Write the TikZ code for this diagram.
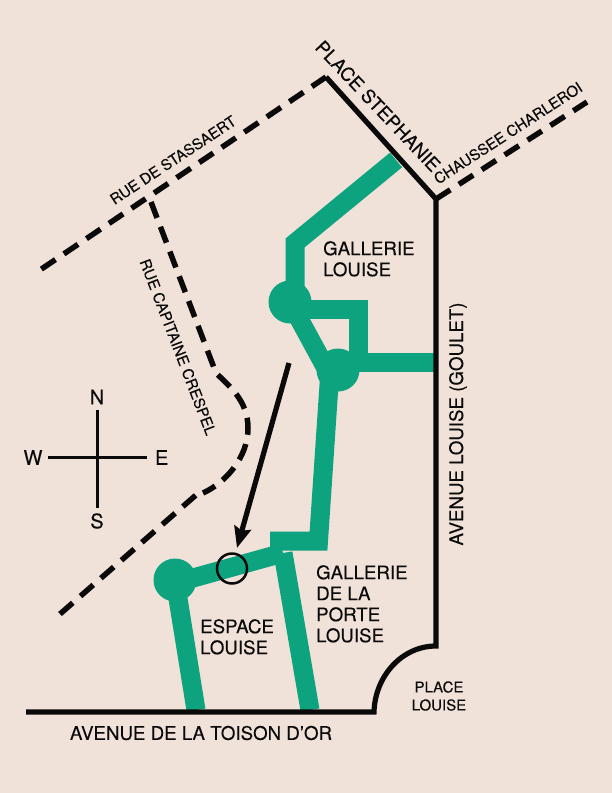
\documentclass[tikz,border=0pt]{standalone}
\usepackage{fontspec}
\setmainfont[FakeBold=0.15]{TeX Gyre Heros}
\usetikzlibrary{arrows.meta}
\definecolor{paper}{HTML}{F0E2D8}
\definecolor{gal}{HTML}{0DA37F}
\definecolor{ink}{HTML}{0A0A0A}
\tikzset{
  x=1pt,y=-1pt,
  route/.style={draw=gal,line width=19pt,line join=miter},
  hub/.style={circle,fill=gal,minimum size=43pt,inner sep=0pt},
  road/.style={draw=ink,line width=5.2pt,line join=miter},
  dashroad/.style={draw=ink,line width=5.5pt,dash pattern=on 17pt off 10.2pt},
  lab/.style={text=ink,font=\fontsize{18.7}{21}\selectfont,align=left,inner sep=0pt},
  point/.style={text=ink,font=\fontsize{20}{22}\selectfont,inner sep=0pt},
  small/.style={text=ink,font=\fontsize{15}{18}\selectfont,inner sep=0pt},
  compass/.style={draw=ink,line width=2.7pt},
}
\begin{document}
\begin{tikzpicture}
\useasboundingbox[fill=paper] (0,0) rectangle (612,793);
% junctions
\node[hub] (h1) at (290,302) {};
\node[hub] (h2) at (338,370) {};
\node[hub] (h3) at (175,580) {};
\coordinate (topend) at (396,160);
\coordinate (bend) at (295,243);
\coordinate (h1top) at (295,302);
\coordinate (h1side) at (290,309);
\coordinate (loopa) at (358,309);
\coordinate (loopb) at (358,362);
\coordinate (h2side) at (338,362);
\coordinate (h2diag) at (328,372);
\coordinate (h2down) at (330,370);
\coordinate (east) at (434,362);
\coordinate (stepa) at (318.5,541);
\coordinate (stepb) at (270,541);
\coordinate (joint) at (283,553);
\coordinate (h3side) at (175,583);
\coordinate (foota) at (196,710);
\coordinate (footb) at (310,710);
% green
\draw[route] (topend) -- (bend) -- (h1top);
\draw[route] (h1.center) -- (h2diag);
\draw[route] (h1side) -- (loopa) -- (loopb);
\draw[route] (h2side) -- (east);
\draw[route] (h2down) -- (stepa) -- (stepb);
\draw[route] (h3side) -- (joint);
\draw[route] (h3.center) -- (foota);
\draw[route] (joint) -- (footb);
% roads
\coordinate (pa) at (326,77);
\coordinate (pb) at (436,199);
\coordinate (pc) at (436,646);
\coordinate (pd) at (374,712);
\coordinate (pe) at (26,712);
\coordinate (stassaertend) at (40,270);
\coordinate (charleroiend) at (587,102);
\draw[road] (pa) -- (pb) -- (pc) .. controls (402,646) and (375,676) .. (pd) -- (pe);
\draw[dashroad] (pa) -- (stassaertend);
\draw[dashroad] (pb) -- (charleroiend);
\coordinate (crespelstart) at (151,202);
\coordinate (crespelmid) at (196,495);
\coordinate (crespelend) at (60,614);
\draw[dashroad,dash pattern=on 17pt off 9.5pt] (crespelstart) -- (216,373) .. controls (228,385) and (248,400) .. (248,428) .. controls (248,458) and (225,483) .. (203,493);
\draw[dashroad] (crespelend) -- (crespelmid);
% arrow
\coordinate (arrowtail) at (289,363);
\coordinate (arrowtip) at (237,548);
\draw[draw=ink,line width=5.2pt,-{Stealth[length=21pt,width=17pt,inset=3pt]}] (arrowtail) -- (arrowtip);
\node[circle,draw=ink,line width=2.5pt,minimum size=30pt,inner sep=0pt] (spot) at (232,568.5) {};
% compass
\node[point] (n) at (97,397) {N};
\node[point] (s) at (97,521) {S};
\node[point] (w) at (33,457.5) {W};
\node[point] (e) at (161.7,457.5) {E};
\coordinate (cn) at (97.3,410);
\coordinate (cs) at (97.3,508);
\coordinate (cw) at (48,457.7);
\coordinate (ce) at (147,457.7);
\draw[compass] (cn) -- (cs);
\draw[compass] (cw) -- (ce);
% labels
\node[lab,anchor=north west] (gl) at (323,241) {GALLERIE\\LOUISE};
\node[lab,anchor=north west] (gp) at (316,565) {GALLERIE\\DE LA\\PORTE\\LOUISE};
\node[lab,anchor=north west] (el) at (200,619) {ESPACE\\LOUISE};
\node[lab] (atd) at (201,733) {AVENUE DE LA TOISON D’OR};
\node[lab,rotate=90] (al) at (458,424) {AVENUE LOUISE (GOULET)};
\node[lab,rotate=-46.6] (ps) at (378,106) {PLACE STEPHANIE};
\node[small,rotate=33] (cc) at (508,133) {CHAUSSEE CHARLEROI};
\node[small,rotate=33.5] (rs) at (173,160) {RUE DE STASSAERT};
\node[small,rotate=-69] (rc) at (178,347) {RUE CAPITAINE CRESPEL};
\node[small,align=center] (pl) at (439,696) {PLACE\\LOUISE};
\end{tikzpicture}
\end{document}
